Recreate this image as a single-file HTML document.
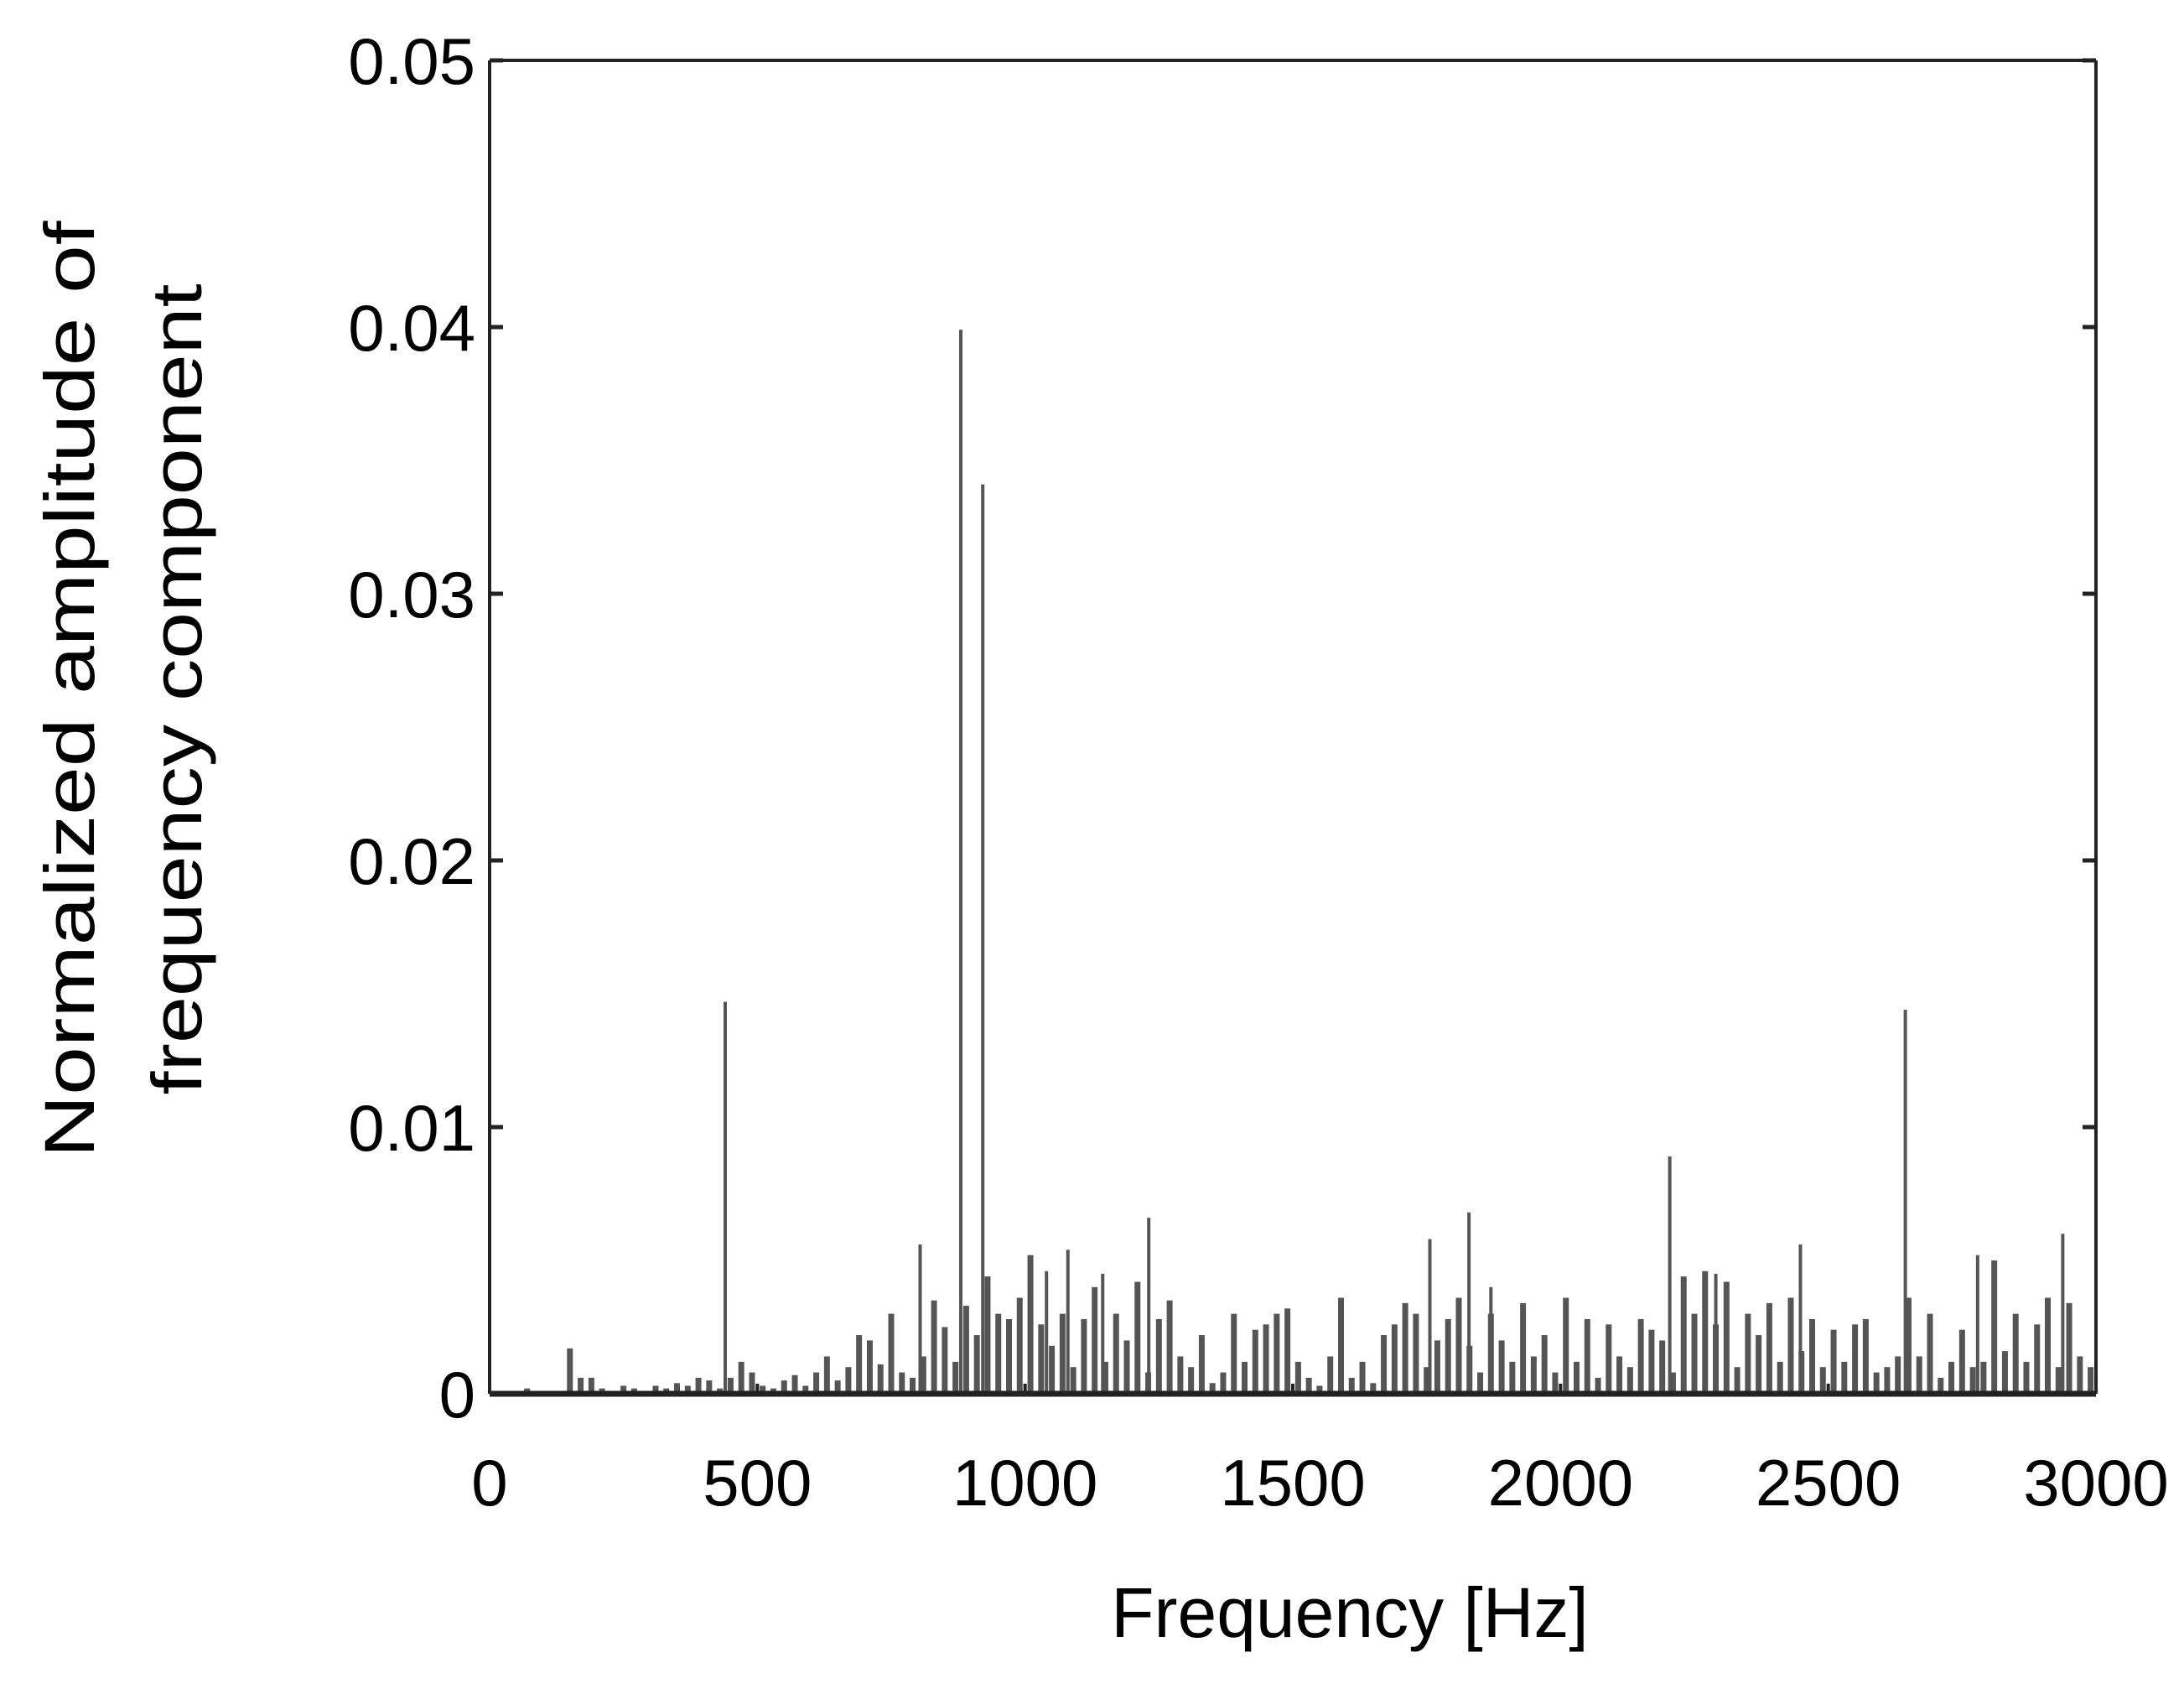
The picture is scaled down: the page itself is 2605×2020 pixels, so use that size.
<!DOCTYPE html>
<html><head><meta charset="utf-8"><style>html,body{margin:0;padding:0;background:#fff;}svg{display:block;}</style></head>
<body>
<svg id="chart" width="2605" height="2020" xmlns="http://www.w3.org/2000/svg" font-family="'Liberation Sans', sans-serif">
<rect width="2605" height="2020" fill="#fff"/>
<g id="bars"></g>
<g id="axes"></g>
<text x="1610" y="1952" font-size="84" text-anchor="middle" fill="#000">Frequency [Hz]</text>
<g>
<text x="0" y="0" transform="translate(112,822) rotate(-90)" font-size="84" text-anchor="middle" textLength="1117" lengthAdjust="spacingAndGlyphs" fill="#000">Normalized amplitude of</text>
<text x="0" y="0" transform="translate(240,822) rotate(-90)" font-size="84" text-anchor="middle" textLength="967" lengthAdjust="spacingAndGlyphs" fill="#000">frequency component</text>
</g>
</svg>
<script>
const bgStart = 10;
const bgStep = 20;
const bgAmpsE4 = [1,1,0,2,1,1,0,17,6,6,2,1,3,2,1,3,2,4,3,6,
5,2,6,12,8,3,2,5,7,3,8,14,5,10,22,
20,11,30,8,6,14,35,25,12,33,22,44,30,28,36,
52,26,18,30,10,28,40,12,30,20,42,8,28,35,14,
10,22,4,8,30,12,24,26,30,32,12,6,3,14,36,
6,12,4,22,26,34,30,10,20,28,36,18,8,30,20,
12,34,14,22,8,36,12,28,6,26,14,10,28,24,20,
8,44,30,46,26,42,10,30,22,34,12,36,16,28,10,
24,12,26,28,8,10,14,36,14,30,6,12,24,10,12,
50,16,30,12,26,36,10,34,14,10];
const peakFreqs = [440,880,921,1231,1829,1756,2204,2644,2938,2448,2779,804,1080,1145,1040,1870,2290];
const peakAmps = [0.0147,0.0399,0.0341,0.0066,0.0068,0.0058,0.0089,0.0144,0.0060,0.0056,0.0052,0.0056,0.0054,0.0045,0.0046,0.0040,0.0045];
const xTicks = [0,500,1000,1500,2000,2500,3000];
const yTicks = [0,0.01,0.02,0.03,0.04,0.05];
const yTickLabels = ["0","0.01","0.02","0.03","0.04","0.05"];

const L=584,R=2500,T=72,B=1662;
const xS=f=>L+(f/3000)*(R-L);
const yS=v=>B-(v/0.05)*(B-T);
const NS="http://www.w3.org/2000/svg";
const bars=document.getElementById('bars');
function bar(f,v,name,w){
  const r=document.createElementNS(NS,'rect');
  r.setAttribute('x',xS(f)-w/2);r.setAttribute('width',w);
  r.setAttribute('y',yS(v));r.setAttribute('height',B-yS(v));
  r.setAttribute('fill','#555');
  
  
  bars.appendChild(r);
}
bgAmpsE4.forEach((a,i)=>{ if(a>0) bar(bgStart+i*bgStep,a*1e-4,'spectrum-bar',7); });
peakFreqs.forEach((f,i)=>bar(f,peakAmps[i],'spectrum-peak',4));

const ax=document.getElementById('axes');
function line(x1,y1,x2,y2,w,name){
  const l=document.createElementNS(NS,'line');
  l.setAttribute('x1',x1);l.setAttribute('y1',y1);l.setAttribute('x2',x2);l.setAttribute('y2',y2);
  l.setAttribute('stroke','#222');l.setAttribute('stroke-width',w);
  
  
  ax.appendChild(l);
}
function text(x,y,s,anchor,name){
  const t=document.createElementNS(NS,'text');
  t.setAttribute('x',x);t.setAttribute('y',y);t.setAttribute('font-size','78');
  t.setAttribute('text-anchor',anchor);t.setAttribute('fill','#000');
  t.textContent=s;
  
  
  ax.appendChild(t);
}
line(L,T,R,T,4,'plot-frame-top');
line(L,T,L,B,4,'plot-frame-left');
line(R,T,R,B,4,'plot-frame-right');
line(L,B,R,B,7,'x-axis-line');
yTicks.forEach((v,i)=>{
  const y=yS(v);
  line(L,y,L+16,y,5,'y-tick');
  line(R-16,y,R,y,5,'y-tick-right');
  text(567,y+28,yTickLabels[i],'end','y-tick-label');
});
xTicks.forEach(f=>{
  line(xS(f),B,xS(f),B-12,4,'x-tick');
  text(xS(f),1795,String(f),'middle','x-tick-label');
});
</script>
</body></html>
